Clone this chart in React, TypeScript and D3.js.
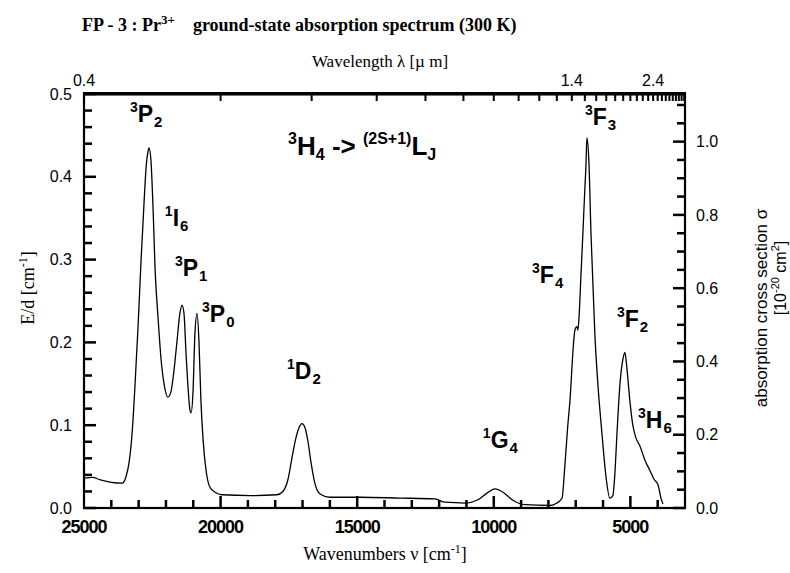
import React from "react";
import * as d3 from "d3";

const WIDTH = 790;
const HEIGHT = 573;
const margin = { left: 84, right: 105, top: 94, bottom: 65 };

// spectrum: wavenumber [cm-1] and E/d [cm-1]
const wavenumbers = [
  25000, 24700, 24400, 24000, 23600, 23460, 23350, 23240, 23130, 23020,
  22910, 22800, 22730, 22660, 22620, 22550, 22470, 22400, 22290, 22180,
  22070, 21930, 21820, 21710, 21600, 21490, 21410, 21340, 21270, 21190,
  21120, 21080, 21010, 20940, 20860, 20790, 20720, 20640, 20530, 20390,
  20200, 19950, 18920, 17940, 17720, 17530, 17390, 17240, 17130, 17020,
  16910, 16800, 16690, 16550, 16360, 16000, 14900, 13430, 12150, 11790,
  11050, 10580, 10250, 9960, 9660, 9330, 8860, 7940, 7690, 7500,
  7400, 7290, 7210, 7100, 7030, 6960, 6920, 6880, 6810, 6740,
  6660, 6630, 6590, 6520, 6440, 6300, 6190, 6040, 5900, 5750,
  5640, 5570, 5490, 5380, 5270, 5200, 5130, 5020, 4910, 4800,
  4650, 4470, 4280, 4140, 3990, 3880, 3810
];
const absorbance = [
  0.036, 0.037, 0.034, 0.031, 0.030, 0.038, 0.055, 0.09, 0.15, 0.22,
  0.30, 0.37, 0.41, 0.43, 0.435, 0.42, 0.36, 0.29, 0.23, 0.18,
  0.15, 0.134, 0.14, 0.165, 0.20, 0.235, 0.245, 0.235, 0.19, 0.145,
  0.118, 0.115, 0.14, 0.21, 0.235, 0.20, 0.13, 0.082, 0.045, 0.025,
  0.019, 0.016, 0.015, 0.016, 0.02, 0.035, 0.06, 0.085, 0.097, 0.102,
  0.097, 0.08, 0.055, 0.03, 0.017, 0.013, 0.013, 0.012, 0.011, 0.007,
  0.006, 0.010, 0.018, 0.023, 0.019, 0.010, 0.004, 0.003, 0.006, 0.012,
  0.05, 0.10, 0.13, 0.19, 0.215, 0.219, 0.215, 0.23, 0.28, 0.33,
  0.39, 0.41, 0.447, 0.42, 0.33, 0.21, 0.15, 0.09, 0.04, 0.012,
  0.015, 0.04, 0.09, 0.15, 0.18, 0.188, 0.17, 0.13, 0.10, 0.085,
  0.075, 0.058, 0.045, 0.035, 0.028, 0.012, 0.005
];

// axis ticks
const wnLabels = [25000, 20000, 15000, 10000, 5000];
const wnTicks = d3.range(24000, 3000, -1000);
const leftLabels = [0, 0.1, 0.2, 0.3, 0.4, 0.5];
const leftTicks = d3.range(0, 26).map(i => i / 50);
const rightLabels = [0, 0.2, 0.4, 0.6, 0.8, 1.0];
const rightTicks = d3.range(0, 23).map(i => i / 20);
const lambdaLabels = [0.4, 1.4, 2.4];
const lambdaTicks = d3.range(5, 34).map(d => d / 10);

// peak annotations: [spin multiplicity, term, J, wavenumber, E/d at baseline]
const peaks: [string, string, string, number, number][] = [
  ["3", "P", "2", 23320, 0.466],
  ["1", "I", "6", 22040, 0.341],
  ["3", "P", "1", 21670, 0.28],
  ["3", "P", "0", 20680, 0.225],
  ["1", "D", "2", 17570, 0.156],
  ["1", "G", "4", 10400, 0.072],
  ["3", "F", "3", 6660, 0.463],
  ["3", "F", "4", 8600, 0.272],
  ["3", "F", "2", 5490, 0.219],
  ["3", "H", "6", 4720, 0.097]
];

const SANS = "'Liberation Sans', Arial, sans-serif";
const SERIF = "'Liberation Serif', 'Times New Roman', serif";
const TW = 2.5; // tick thickness

export default function App() {
  const innerW = WIDTH - margin.left - margin.right;
  const innerH = HEIGHT - margin.top - margin.bottom;

  const x = d3.scaleLinear().domain([25000, 3000]).range([0, innerW]);
  const y = d3.scaleLinear().domain([0, 0.5]).range([innerH, 0]);
  const yR = d3.scaleLinear().domain([0, 1.13]).range([innerH, 0]);

  const points = wavenumbers.map((w, i) => [w, absorbance[i]] as [number, number]);
  const line = d3
    .line<[number, number]>()
    .curve(d3.curveMonotoneX)
    .x(d => x(d[0]))
    .y(d => y(d[1]));

  return (
    <svg width={WIDTH} height={HEIGHT} style={{ position: "absolute", left: 0, top: 0, background: "#fff" }}>
      {/* title */}
      <text x={82} y={31} fontFamily={SERIF} fontWeight="bold" fontSize={18}>
        FP - 3 : Pr<tspan dy={-7} fontSize={13}>3+</tspan>
        <tspan dy={7}>{"\u00a0\u00a0\u00a0\u00a0ground-state absorption spectrum (300 K)"}</tspan>
      </text>
      <text x={380} y={67} textAnchor="middle" fontFamily={SERIF} fontSize={17}>
        Wavelength λ  [µ m]
      </text>

      <g transform={`translate(${margin.left},${margin.top})`}>
        {/* curve */}
        <path d={line(points) || ""} fill="none" stroke="#000" strokeWidth={1.3} />

        {/* frame */}
        <rect x={0} y={0} width={innerW} height={innerH} fill="none" stroke="#000" strokeWidth={2.2} />
        <rect x={-1} y={-2} width={innerW + 2} height={3.5} fill="#000" />

        {/* inward ticks as small filled bars */}
        {wnTicks.map(t => {
          const len = t % 5000 === 0 ? 12 : 8;
          return <rect key={"bt" + t} x={x(t) - TW / 2} y={innerH - len} width={TW} height={len} fill="#000" />;
        })}
        {lambdaTicks.map(l => (
          <rect key={"tt" + l} x={x(1e4 / l) - 1} y={0} width={2} height={7} fill="#000" />
        ))}
        {leftTicks.map((t, i) => {
          const len = i % 5 === 0 ? 12 : 8;
          return <rect key={"lt" + i} x={0} y={y(t) - TW / 2} width={len} height={TW} fill="#000" />;
        })}
        {rightTicks.map((t, i) => {
          const len = i % 4 === 0 ? 12 : 8;
          return <rect key={"rt" + i} x={innerW - len} y={yR(t) - TW / 2} width={len} height={TW} fill="#000" />;
        })}

        {wnLabels.map(t => (
          <text key={"bl" + t} x={x(t)} y={innerH + 25} textAnchor="middle" fontFamily={SANS} fontWeight="bold" fontSize={18} letterSpacing={-1}>
            {t}
          </text>
        ))}
        {lambdaLabels.map(l => (
          <text key={"tl" + l} x={x(1e4 / l)} y={-8} textAnchor="middle" fontFamily={SANS} fontSize={16}>
            {l.toFixed(1)}
          </text>
        ))}
        {leftLabels.map(t => (
          <text key={"ll" + t} x={-12} y={y(t)} dy="0.35em" textAnchor="end" fontFamily={SANS} fontSize={16}>
            {t.toFixed(1)}
          </text>
        ))}
        {rightLabels.map(t => (
          <text key={"rl" + t} x={innerW + 11} y={yR(t)} dy="0.35em" fontFamily={SANS} fontSize={16}>
            {t.toFixed(1)}
          </text>
        ))}

        {/* peak labels */}
        {peaks.map(([s, term, j, w, v]) => (
          <text key={term + j + w} x={x(w)} y={y(v)} fontFamily={SANS} fontWeight="bold" fontSize={23}>
            <tspan fontSize={14} dy={-10}>{s}</tspan>
            <tspan dy={10}>{term}</tspan>
            <tspan fontSize={15} dy={5} dx={1}>{j}</tspan>
          </text>
        ))}

        {/* transition scheme */}
        <text x={x(17530)} y={y(0.426)} fontFamily={SANS} fontWeight="bold" fontSize={26}>
          <tspan fontSize={16} dy={-11}>3</tspan>
          <tspan dy={11}>H</tspan>
          <tspan fontSize={16} dy={5}>4</tspan>
          <tspan dy={-5}>{" -> "}</tspan>
          <tspan fontSize={16} dy={-11}>(2S+1)</tspan>
          <tspan dy={11}>L</tspan>
          <tspan fontSize={16} dy={5}>J</tspan>
        </text>
      </g>

      {/* axis titles */}
      <text x={385} y={560} textAnchor="middle" fontFamily={SERIF} fontSize={18}>
        Wavenumbers ν  [cm<tspan dy={-7} fontSize={12}>-1</tspan><tspan dy={7}>]</tspan>
      </text>
      <text transform="translate(34,288) rotate(-90)" textAnchor="middle" fontFamily={SERIF} fontSize={18}>
        E/d  [cm<tspan dy={-7} fontSize={12}>-1</tspan><tspan dy={7}>]</tspan>
      </text>
      <text transform="translate(767,308) rotate(-90)" textAnchor="middle" fontFamily={SANS} fontSize={17}>
        absorption cross section σ
      </text>
      <text transform="translate(786,278) rotate(-90)" textAnchor="middle" fontFamily={SANS} fontSize={16}>
        [10<tspan dy={-7} fontSize={11}>-20</tspan><tspan dy={7}> cm</tspan><tspan dy={-7} fontSize={11}>2</tspan><tspan dy={7}>]</tspan>
      </text>
    </svg>
  );
}
